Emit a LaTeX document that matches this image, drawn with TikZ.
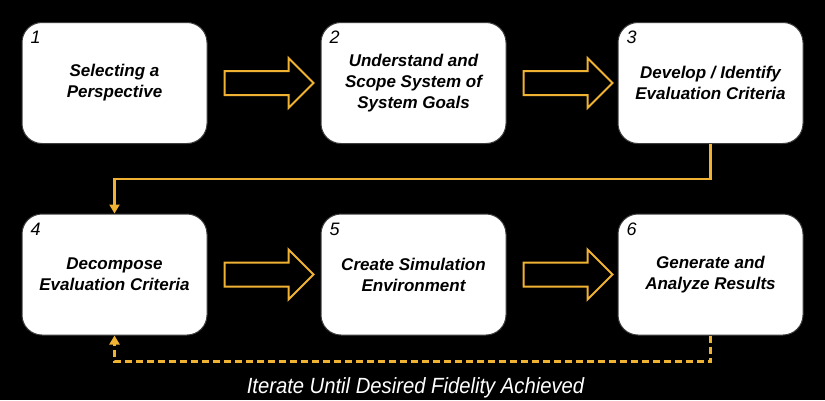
\documentclass[tikz,border=0pt]{standalone}
\usepackage{fontspec}
\setmainfont{Liberation Sans}
\newfontfamily\narrowsans[FakeStretch=0.92]{Liberation Sans}
\usetikzlibrary{positioning,shapes.arrows,arrows.meta}
\definecolor{gold}{RGB}{240,178,50}
\definecolor{boxedge}{RGB}{60,60,60}

\begin{document}
\begin{tikzpicture}[x=1pt,y=-1pt,
	stepbox/.style={draw=boxedge, line width=1pt, fill=white, rounded corners=20pt,
		minimum width=185pt, minimum height=121pt, align=center,
		font=\fontsize{17}{21}\selectfont\bfseries\itshape},
	stepnum/.style={anchor=north west, inner sep=0pt, font=\fontsize{18}{18}\selectfont\itshape},
	blockarrow/.style={single arrow, draw=gold, line width=2pt, fill=black,
		minimum height=89pt, minimum width=48pt, single arrow head extend=13pt,
		inner xsep=0pt, inner ysep=11pt},
	flowline/.style={draw=gold, line width=2.5pt, -{Triangle[width=10pt,length=9pt]}},
	loopline/.style={flowline, dash pattern=on 7pt off 4pt}]
	\fill[black] (0,0) rectangle (825,400);
	% the six steps
	\node[stepbox] (sel) at (114.5,83) {Selecting a\\Perspective};
	\node[stepbox] (scope) at (413.5,83) {Understand and\\Scope System of\\System Goals};
	\node[stepbox] (crit) at (710.5,83) {Develop / Identify\\Evaluation Criteria};
	\node[stepbox] (decomp) at (114.5,274.5) {Decompose\\Evaluation Criteria};
	\node[stepbox] (sim) at (413.5,274.5) {Create Simulation\\Environment};
	\node[stepbox] (res) at (710.5,274.5) {Generate and\\Analyze Results};
	\foreach \b/\n in {sel/1, scope/2, crit/3, decomp/4, sim/5, res/6}
		\node[stepnum] (num\n) at ([shift={(9,9)}]\b.north west) {\n};
	% block arrows
	\node[blockarrow, right=16pt of sel] (arr12) {};
	\node[blockarrow, right=16pt of scope] (arr23) {};
	\node[blockarrow, right=16pt of decomp] (arr45) {};
	\node[blockarrow, right=16pt of sim] (arr56) {};
	% connectors
	\draw[flowline] (crit.south) -- ++(0,35) -| (decomp.north);
	\draw[loopline] (res.south) -- ++(0,26) -| (decomp.south);
	\node[anchor=base, text=white, inner sep=0pt, font=\narrowsans\itshape\fontsize{22}{22}\selectfont]
		(iterlabel) at (415.5,393) {Iterate Until Desired Fidelity Achieved};
\end{tikzpicture}
\end{document}
